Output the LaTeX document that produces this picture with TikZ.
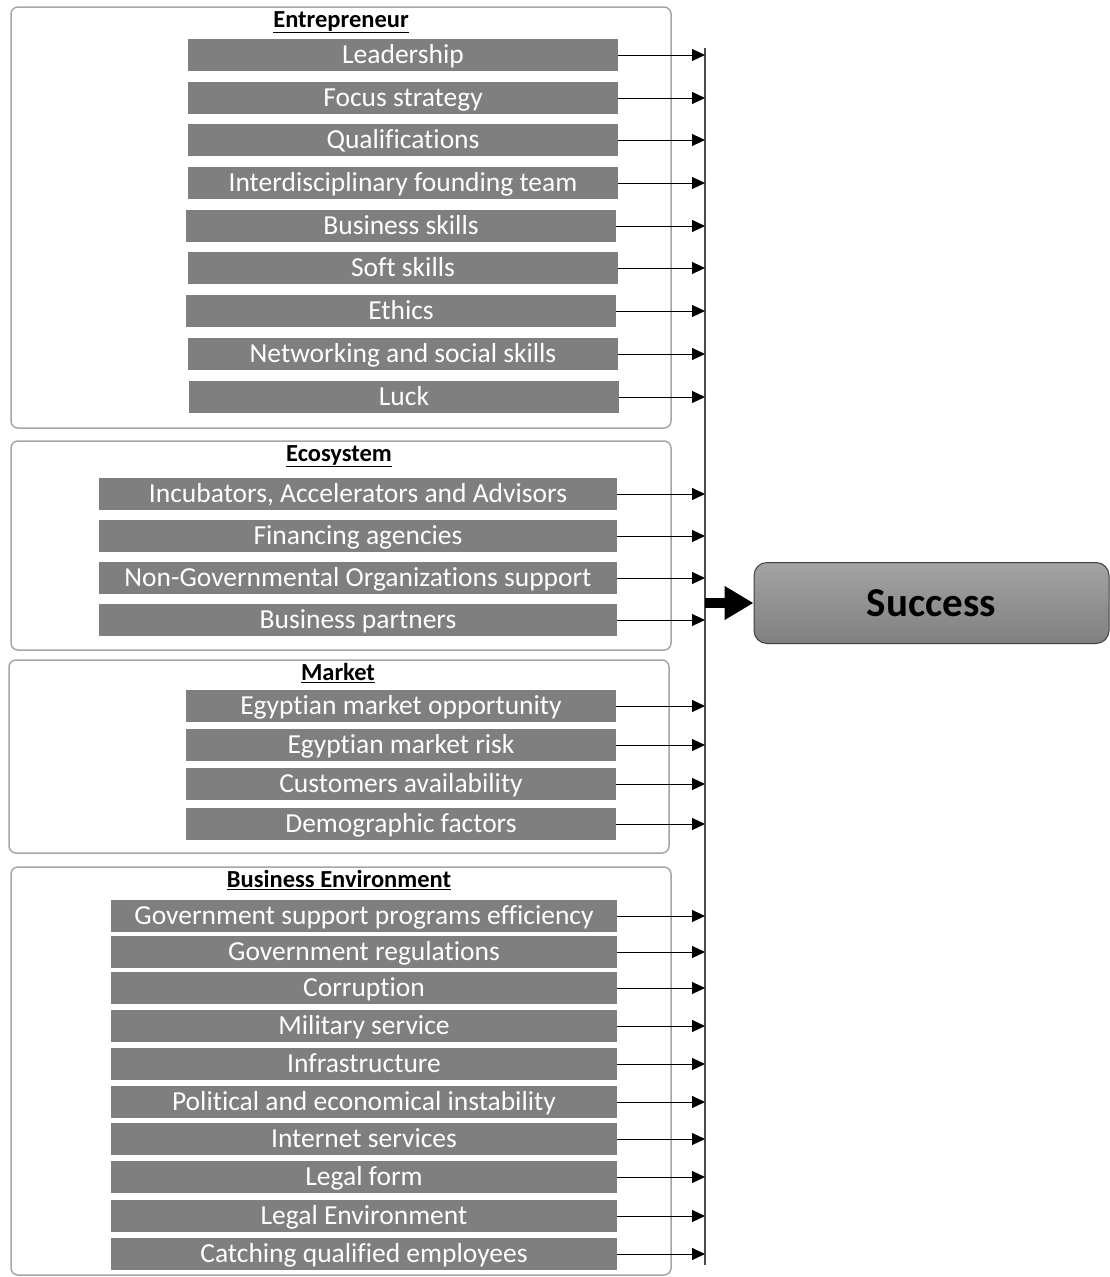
\documentclass[tikz,border=0pt]{standalone}
\usepackage{fontspec}
\setmainfont{Carlito}[Ligatures=NoCommon]
\usetikzlibrary{arrows.meta, positioning, calc}
\definecolor{itemgray}{HTML}{7F7F7F}
\definecolor{framegray}{HTML}{A6A6A6}
\tikzset{
    % Factor boxes
    factor/.style = {fill=itemgray, text=white, minimum height=32pt, inner sep=0pt,
        text height=19pt, text depth=3pt, text centered,
        font=\fontsize{27.5}{30}\selectfont},
    entfactor/.style = {factor, minimum width=430pt},
    ecofactor/.style = {factor, minimum width=518pt},
    mktfactor/.style = {factor, minimum width=430pt},
    envfactor/.style = {factor, minimum width=506pt},
    % Group frames and titles
    group/.style = {draw=framegray, line width=1.5pt, rounded corners=7pt},
    grouptitle/.style = {font=\fontsize{24.5}{27}\selectfont\bfseries, inner sep=0pt},
    % Result
    result/.style = {draw=black!75, line width=1pt, rounded corners=13pt, top color=black!36,
        bottom color=black!50, minimum width=355pt, minimum height=81pt,
        font=\fontsize{41}{45}\selectfont\bfseries},
    % Edges
    arrow/.style = {line width=1pt, -{Triangle[length=13pt, width=12pt]}},
    bigarrow/.style = {line width=10pt, -{Triangle[length=29pt, width=32pt]}}
}
\begin{document}
\begin{tikzpicture}[x=1pt, y=-1pt]
    \useasboundingbox (0,0) rectangle (1110,1277);

    % Group frames
    \draw [group] (11,7) rectangle (671,428);
    \draw [group] (11,441) rectangle (671,650);
    \draw [group] (9,660) rectangle (669,853);
    \draw [group] (11,867) rectangle (671,1275);

    % Common line
    \coordinate (bustop) at (705,48);
    \coordinate (busbot) at (705,1265);
    \draw [line width=1.5pt, black!70] (bustop) -- (busbot);

    % Entrepreneur
    \node (ent) [grouptitle] at (341,22) {\underline{Entrepreneur}};
    \node (lead) [entfactor] at (403,55) {Leadership};
    \node (focus) [entfactor] at (403,98) {Focus strategy};
    \node (qual) [entfactor] at (403,140) {Qualifications};
    \node (team) [entfactor] at (403,183) {Interdisciplinary founding team};
    \node (bskill) [entfactor] at (401,226) {Business skills};
    \node (soft) [entfactor] at (403,268) {Soft skills};
    \node (ethics) [entfactor] at (401,311) {Ethics};
    \node (netw) [entfactor] at (403,354) {Networking and social skills};
    \node (luck) [entfactor] at (404,397) {Luck};

    % Ecosystem
    \node (eco) [grouptitle] at (339,456) {\underline{Ecosystem}};
    \node (incub) [ecofactor] at (358,494) {Incubators, Accelerators and Advisors};
    \node (finance) [ecofactor] at (358,536) {Financing agencies};
    \node (ngo) [ecofactor] at (358,578) {Non-Governmental Organizations support};
    \node (partner) [ecofactor] at (358,620) {Business partners};

    % Market
    \node (mkt) [grouptitle] at (338,673) {\underline{Market}};
    \node (opport) [mktfactor] at (401,706) {Egyptian market opportunity};
    \node (risk) [mktfactor] at (401,745) {Egyptian market risk};
    \node (cust) [mktfactor] at (401,784) {Customers availability};
    \node (demo) [mktfactor] at (401,824) {Demographic factors};

    % Business Environment
    \node (env) [grouptitle] at (339,880) {\underline{Business Environment}};
    \node (gsupp) [envfactor] at (364,916) {Government support programs efficiency};
    \node (greg) [envfactor] at (364,952) {Government regulations};
    \node (corr) [envfactor] at (364,988) {Corruption};
    \node (milit) [envfactor] at (364,1026) {Military service};
    \node (infra) [envfactor] at (364,1064) {Infrastructure};
    \node (polit) [envfactor] at (364,1102) {Political and economical instability};
    \node (inet) [envfactor] at (364,1139) {Internet services};
    \node (lform) [envfactor] at (364,1177) {Legal form};
    \node (lenv) [envfactor] at (364,1216) {Legal Environment};
    \node (employ) [envfactor] at (364,1254) {Catching qualified employees};

    % Result
    \node (success) [result] at (931.5,603) {Success};

    % Factor arrows
    \draw [arrow] (lead.east) -- (lead.east -| bustop);
    \draw [arrow] (focus.east) -- (focus.east -| bustop);
    \draw [arrow] (qual.east) -- (qual.east -| bustop);
    \draw [arrow] (team.east) -- (team.east -| bustop);
    \draw [arrow] (bskill.east) -- (bskill.east -| bustop);
    \draw [arrow] (soft.east) -- (soft.east -| bustop);
    \draw [arrow] (ethics.east) -- (ethics.east -| bustop);
    \draw [arrow] (netw.east) -- (netw.east -| bustop);
    \draw [arrow] (luck.east) -- (luck.east -| bustop);
    \draw [arrow] (incub.east) -- (incub.east -| bustop);
    \draw [arrow] (finance.east) -- (finance.east -| bustop);
    \draw [arrow] (ngo.east) -- (ngo.east -| bustop);
    \draw [arrow] (partner.east) -- (partner.east -| bustop);
    \draw [arrow] (opport.east) -- (opport.east -| bustop);
    \draw [arrow] (risk.east) -- (risk.east -| bustop);
    \draw [arrow] (cust.east) -- (cust.east -| bustop);
    \draw [arrow] (demo.east) -- (demo.east -| bustop);
    \draw [arrow] (gsupp.east) -- (gsupp.east -| bustop);
    \draw [arrow] (greg.east) -- (greg.east -| bustop);
    \draw [arrow] (corr.east) -- (corr.east -| bustop);
    \draw [arrow] (milit.east) -- (milit.east -| bustop);
    \draw [arrow] (infra.east) -- (infra.east -| bustop);
    \draw [arrow] (polit.east) -- (polit.east -| bustop);
    \draw [arrow] (inet.east) -- (inet.east -| bustop);
    \draw [arrow] (lform.east) -- (lform.east -| bustop);
    \draw [arrow] (lenv.east) -- (lenv.east -| bustop);
    \draw [arrow] (employ.east) -- (employ.east -| bustop);

    % Into the result
    \draw [bigarrow] (bustop |- success.west) -- (success.west);
\end{tikzpicture}
\end{document}
